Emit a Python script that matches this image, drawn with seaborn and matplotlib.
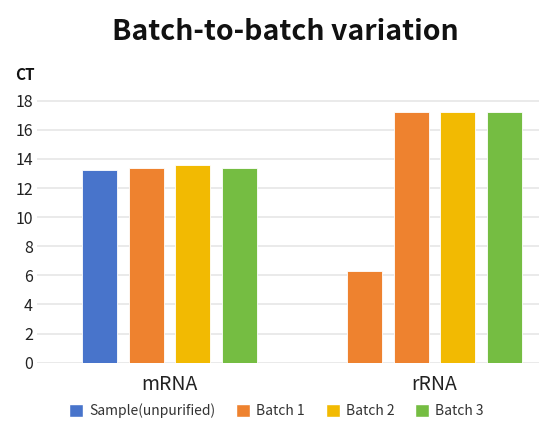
import matplotlib
matplotlib.use("Agg")
import matplotlib.pyplot as plt
import seaborn as sns
import pandas as pd

categories = ["mRNA", "rRNA"]
series = ["Sample(unpurified)", "Batch 1", "Batch 2", "Batch 3"]
sample_vals = [13.25, 6.3]
batch1_vals = [13.35, 17.2]
batch2_vals = [13.6, 17.2]
batch3_vals = [13.4, 17.2]
colors = ["#4874CB", "#EE822F", "#F2BA02", "#75BD42"]
yticks = [0, 2, 4, 6, 8, 10, 12, 14, 16, 18]

rows = []
for s, vals in zip(series, [sample_vals, batch1_vals, batch2_vals, batch3_vals]):
    for c, v in zip(categories, vals):
        rows.append({"cat": c, "series": s, "CT": v})
df = pd.DataFrame(rows)

sns.set_theme(style="white")
plt.rcParams["font.family"] = ["Noto Sans CJK SC", "DejaVu Sans"]

fig = plt.figure(figsize=(5.39, 4.28), dpi=100)
ax = fig.add_axes([37/539, 1-362.7/428, 1-37/539, (362.7-100)/428])

sns.barplot(data=df, x="cat", y="CT", hue="series", hue_order=series,
            palette=colors, width=0.7, gap=0.245, ax=ax, legend=True,
            saturation=1, zorder=3, linewidth=0.6, edgecolor="#FFFFFF")

# rRNA first bar drawn in orange in the reference
ax.containers[0].patches[1].set_facecolor(colors[1])

ax.set_xlim(-0.5, (539-169.5)/265)
ax.set_ylim(0, 18.05)
ax.set_yticks(yticks)
ax.yaxis.grid(True, color="#E6E6E6", linewidth=1.2, zorder=0)
ax.set_axisbelow(True)
for sp in ax.spines.values():
    sp.set_visible(False)
ax.tick_params(axis="y", labelsize=11.5, pad=3, length=0, labelcolor="#222222")
ax.tick_params(axis="x", labelsize=14, pad=8, length=0, labelcolor="#222222")
ax.set_xlabel("")
ax.set_ylabel("")

fig.text(15/539, 1-75/428, "CT", fontsize=11, fontweight="bold", va="center", ha="left", color="#111111")
fig.suptitle("Batch-to-batch variation", x=0.530, y=1-32/428, va="center",
             fontsize=20.5, fontweight="bold", color="#111111")

ax.legend_.remove()
handles = [plt.Rectangle((0, 0), 1, 1, facecolor=c) for c in colors]
fig.legend(handles, series, loc="center", bbox_to_anchor=(0.513, 1-411/428),
           ncol=4, frameon=False, fontsize=10, handlelength=1.0, handleheight=1.0,
           columnspacing=1.5, handletextpad=0.45, labelcolor="#333333")

fig.savefig("out.png", dpi=100)
